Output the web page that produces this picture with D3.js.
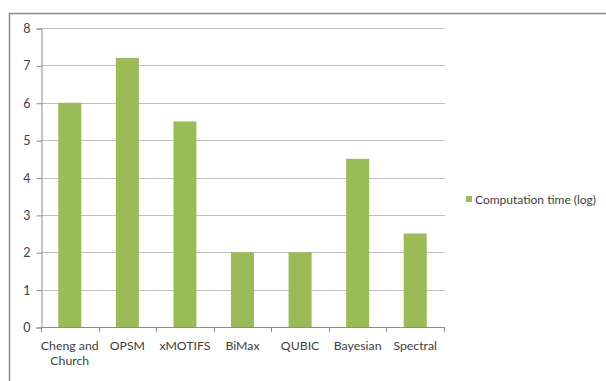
<!DOCTYPE html>
<html><head><meta charset="utf-8">
<script src="https://cdn.jsdelivr.net/npm/d3@7"></script>
<style>body{margin:0;background:#fff}svg{display:block}text{font-family:Lato,"Open Sans",sans-serif;fill:#404040}</style>
</head><body><svg id="c" width="606" height="381"></svg>
<script>
const categories = [["Cheng and","Church"],["OPSM"],["xMOTIFS"],["BiMax"],["QUBIC"],["Bayesian"],["Spectral"]];
const values = [6, 7.2, 5.5, 2, 2, 4.5, 2.5];
const yTicks = [0,1,2,3,4,5,6,7,8];
const seriesName = "Computation time (log)";

(function(){
const svg = d3.select("#c");
// outer frame
svg.append("rect").attr("x",9.5).attr("y",13.5).attr("width",620).attr("height",400)
  .attr("fill","none").attr("stroke","#8c8c8c").attr("stroke-width",1.5);

const pl=41, pr=444, pt=28, pb=327;
const names = categories.map(c=>c.join(" "));
const x = d3.scaleBand().domain(names).range([pl,pr]).paddingInner(0.6).paddingOuter(0.3);
const y = d3.scaleLinear().domain([0,8]).range([pb,pt]);

// gridlines
svg.append("g").selectAll("line").data(yTicks.filter(d=>d>0)).join("line")
  .attr("x1",pl).attr("x2",pr+1).attr("y1",d=>Math.round(y(d))+0.5).attr("y2",d=>Math.round(y(d))+0.5)
  .attr("stroke","#bfbfbf").attr("stroke-width",1);

// bars
svg.append("g").selectAll("rect").data(values).join("rect")
  .attr("x",(d,i)=>x(names[i])).attr("width",x.bandwidth())
  .attr("y",d=>y(d)).attr("height",d=>pb-y(d)).attr("fill","#9bbb59");

// y axis
const ya = svg.append("g").attr("transform",`translate(${pl+0.5},0.5)`)
  .call(d3.axisLeft(y).tickValues(yTicks).tickSize(5).tickPadding(6).tickFormat(d3.format("d")));
ya.select(".domain").attr("stroke","#8c8c8c");
ya.selectAll(".tick line").attr("stroke","#8c8c8c");
ya.selectAll("text").style("font-size","12.5px").attr("fill","#404040").style("font-family","Lato, sans-serif");

// x axis
const bounds = d3.range(names.length+1).map(i=>pl + i*(pr-pl)/names.length);
svg.append("line").attr("x1",pl).attr("x2",pr+1).attr("y1",pb+0.5).attr("y2",pb+0.5).attr("stroke","#8c8c8c");
svg.append("g").selectAll("line").data(bounds).join("line")
  .attr("x1",d=>Math.round(d)+0.5).attr("x2",d=>Math.round(d)+0.5).attr("y1",pb).attr("y2",pb+5)
  .attr("stroke","#8c8c8c");
const lab = svg.append("g").selectAll("text").data(categories).join("text")
  .attr("x",(d,i)=>x(names[i])+x.bandwidth()/2).attr("y",350)
  .attr("text-anchor","middle").style("font-size","12.3px");
lab.each(function(d){
  const t=d3.select(this);
  d.forEach((s,j)=>t.append("tspan").attr("x",t.attr("x")).attr("dy",j?15:0).text(s));
});

// legend
svg.append("rect").attr("x",466).attr("y",196).attr("width",6).attr("height",6).attr("fill","#9bbb59");
svg.append("text").attr("x",475).attr("y",204).style("font-size","12px").text(seriesName);
})();
</script></body></html>
